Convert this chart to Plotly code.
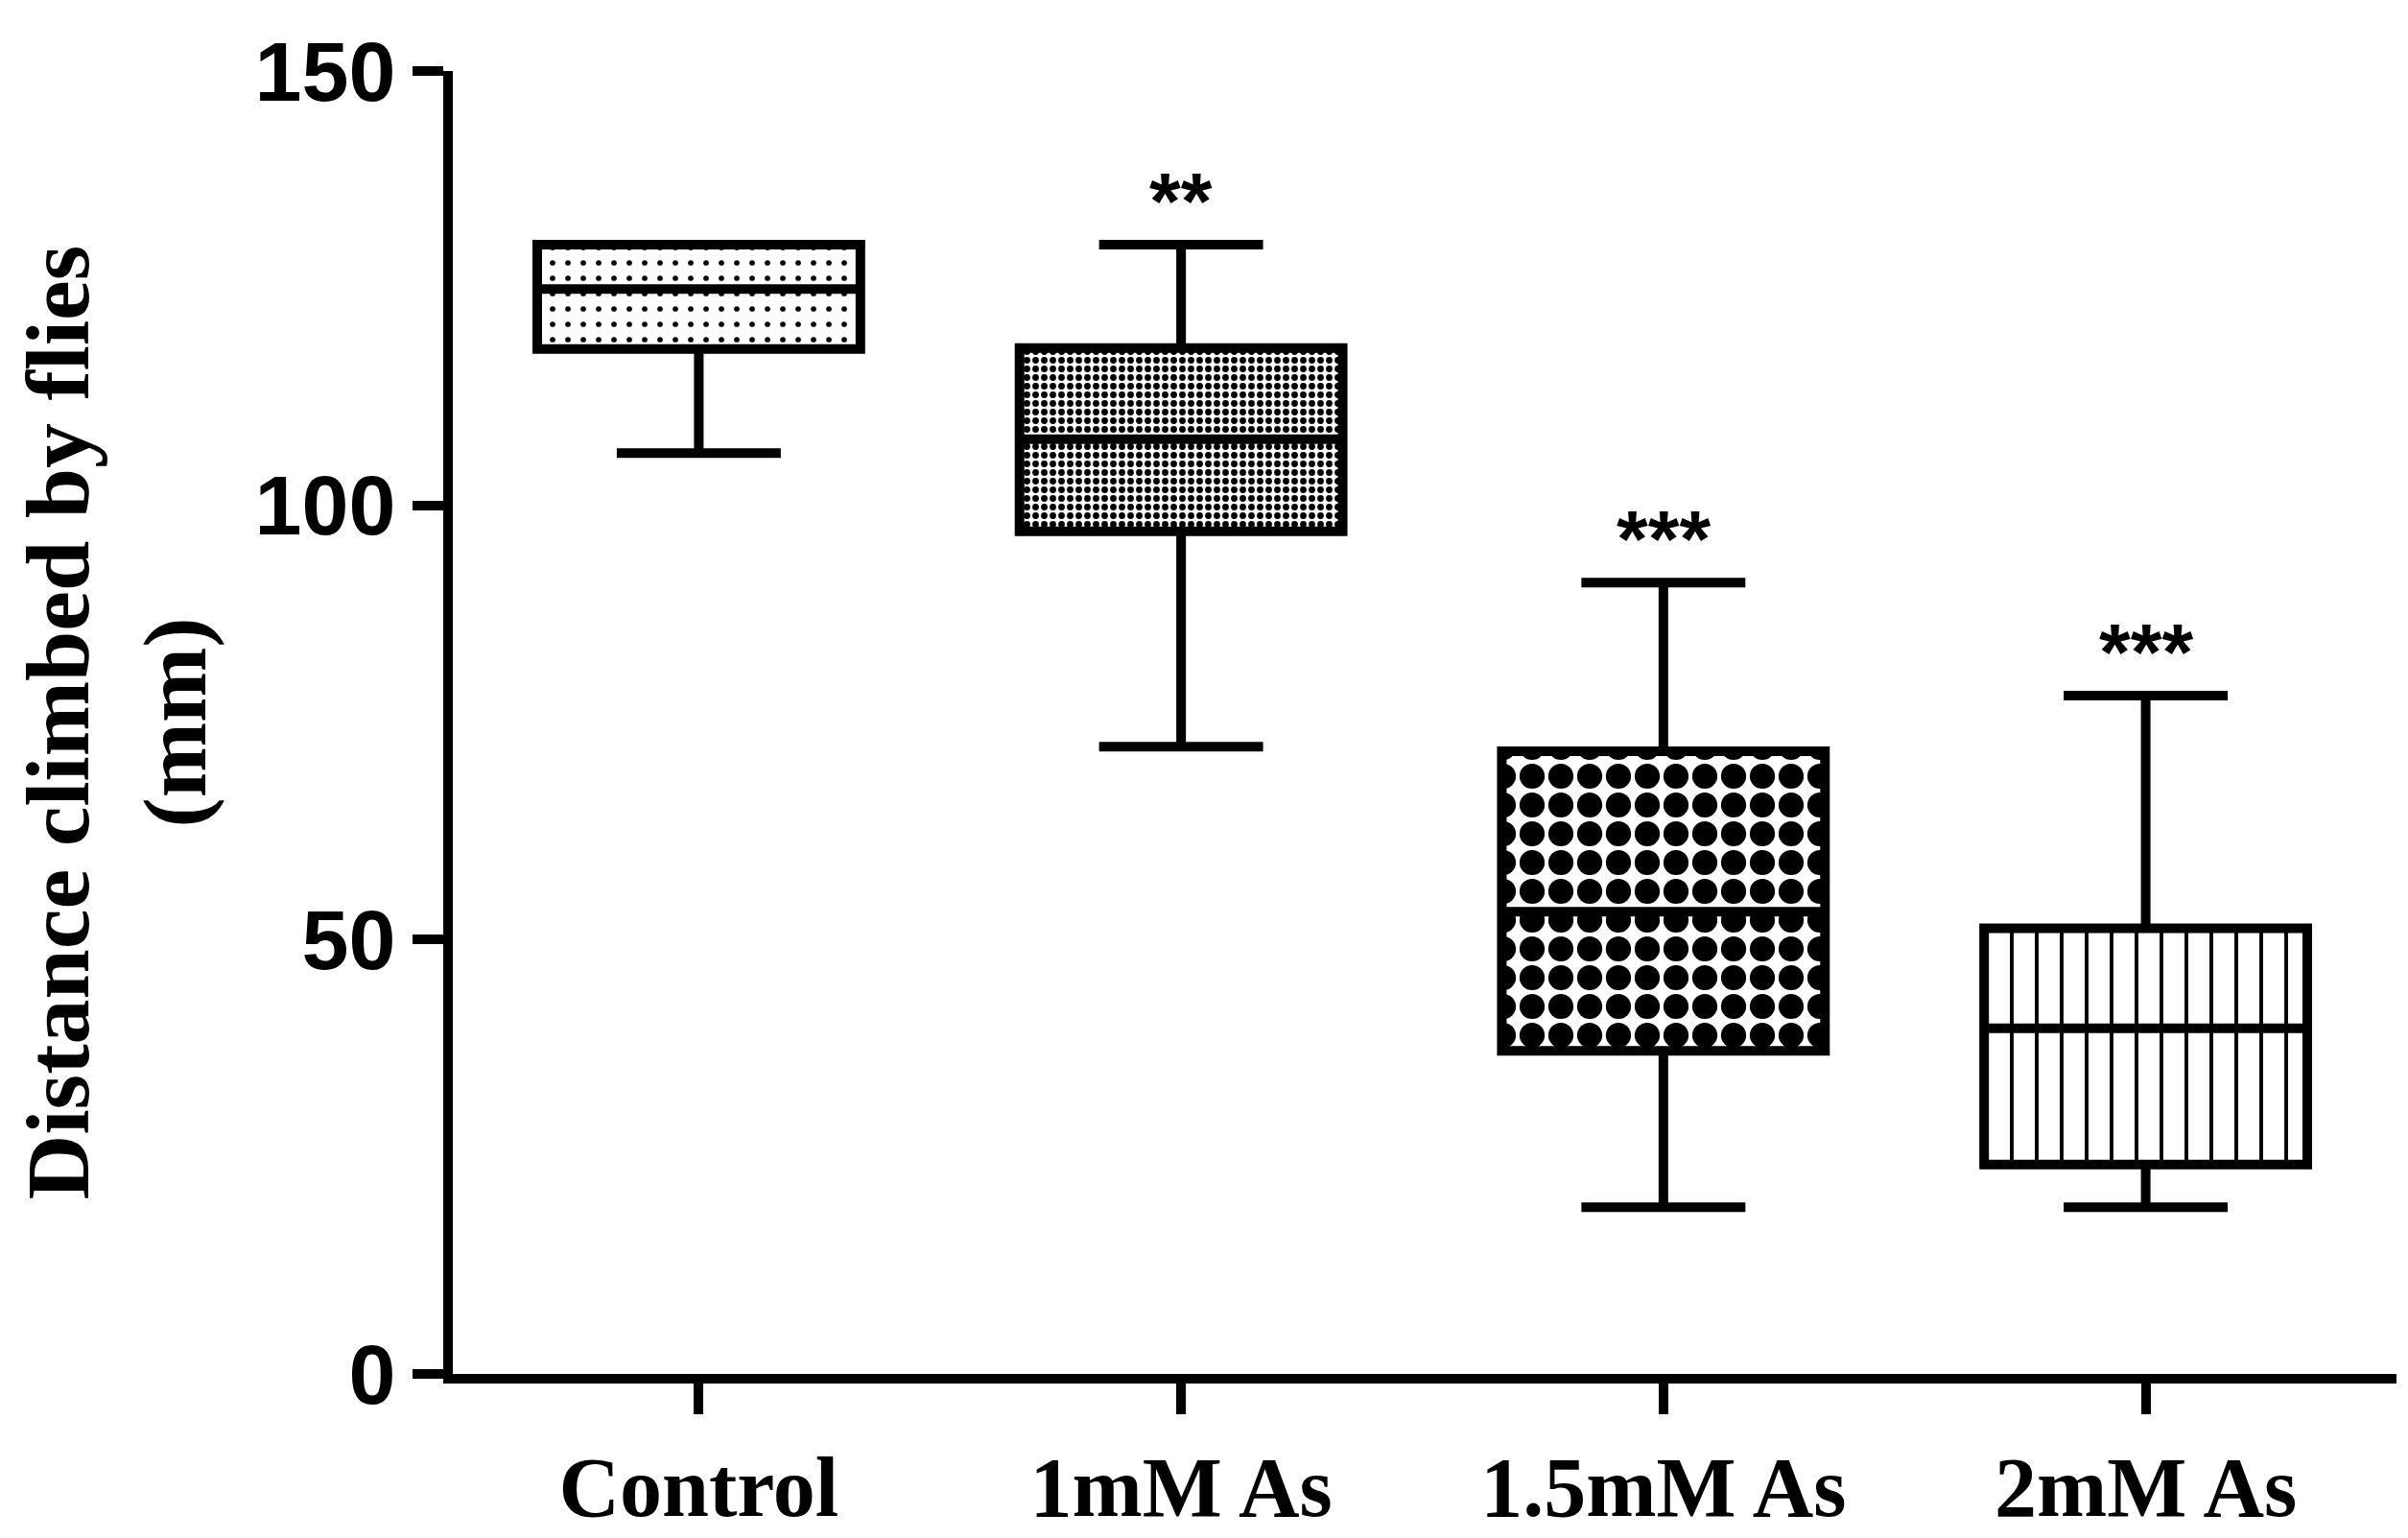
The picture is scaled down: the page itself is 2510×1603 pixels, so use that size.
import plotly.graph_objects as go

cats = ["Control", "1mM As", "1.5mM As", "2mM As"]
lower = [106, 72.2, 19.2, 19.2]
q1 = [118, 97, 37.2, 24.1]
median = [124.9, 107.6, 53.2, 39.8]
q3 = [130, 118.1, 71.7, 51.3]
upper = [130, 130, 91.1, 78.1]
stars = ["", "**", "***", "***"]
patterns = [".", ".", ".", "|"]
psize = [16, 9, 30, 26]
psol = [0.1, 0.45, 0.6, 0.15]

fig = go.Figure()
xs = list(range(len(cats)))
fig.add_trace(go.Bar(x=xs, y=[b - a for a, b in zip(q1, q3)], base=q1, width=0.67,
                     marker=dict(color="white", line=dict(color="black", width=10),
                                 pattern=dict(shape=patterns, size=psize, solidity=psol,
                                              fgcolor="black", fgopacity=1, bgcolor="white",
                                              fillmode="overlay")),
                     showlegend=False))
lw = 10
for i in xs:
    fig.add_trace(go.Scatter(x=[i - 0.335, i + 0.335], y=[median[i]] * 2, mode="lines",
                             line=dict(color="black", width=lw), showlegend=False))
    fig.add_trace(go.Scatter(x=[i, i, None, i - 0.17, i + 0.17], y=[q3[i], upper[i], None, upper[i], upper[i]],
                             mode="lines", line=dict(color="black", width=lw), showlegend=False))
    fig.add_trace(go.Scatter(x=[i, i, None, i - 0.17, i + 0.17], y=[q1[i], lower[i], None, lower[i], lower[i]],
                             mode="lines", line=dict(color="black", width=lw), showlegend=False))
    if stars[i]:
        fig.add_annotation(x=i, y=upper[i], text=stars[i], showarrow=False, yshift=45,
                           font=dict(family="Liberation Sans", size=84, color="black", weight="bold"))

fig.update_layout(
    width=2510, height=1603, plot_bgcolor="white", paper_bgcolor="white",
    margin=dict(l=464, r=20, t=66, b=152),
    xaxis=dict(range=[-0.51, 3.52], tickvals=xs, ticktext=cats, showline=True, linecolor="black",
               linewidth=10, ticks="outside", ticklen=32, tickwidth=10, tickcolor="black",
               showgrid=False, zeroline=False,
               tickfont=dict(family="Liberation Serif", size=88, color="black", weight="bold")),
    yaxis=dict(range=[0, 150], tickvals=[0, 50, 100, 150], showline=True, linecolor="black",
               linewidth=10, ticks="outside", ticklen=32, tickwidth=10, tickcolor="black",
               showgrid=False, zeroline=False,
               tickfont=dict(family="Liberation Sans", size=88, color="black", weight="bold"),
               title=dict(text="Distance climbed by flies<br>(mm)", standoff=40,
                          font=dict(family="Liberation Serif", size=94, color="black", weight="bold"))),
)
fig.write_html("out.html")
